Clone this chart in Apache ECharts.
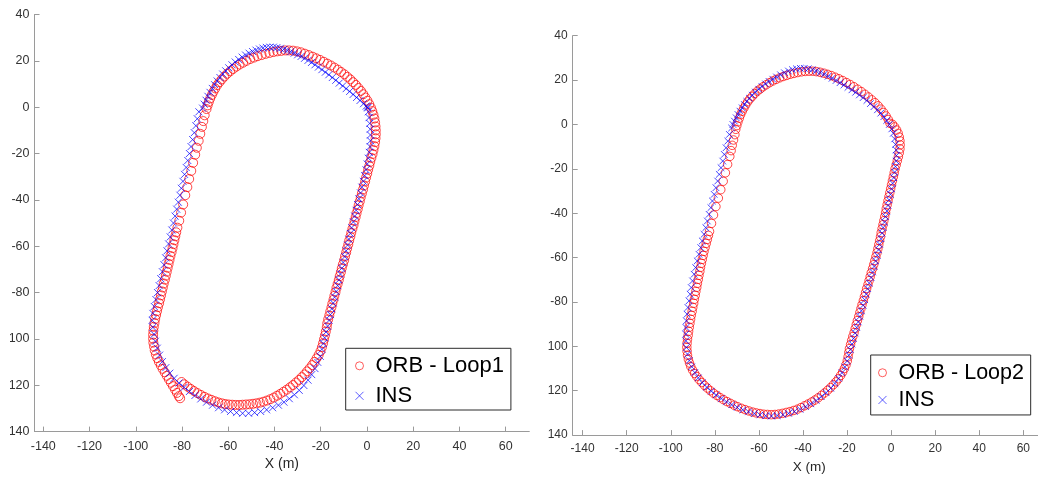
<!DOCTYPE html>
<html><head><meta charset="utf-8">
<script src="https://cdn.jsdelivr.net/npm/echarts@6/dist/echarts.min.js"></script>
<style>
html,body{margin:0;padding:0;background:#fff;width:1038px;height:477px;overflow:hidden;position:relative}
#c1{position:absolute;left:10px;top:0;width:536px;height:477px}
#c2{position:absolute;left:548px;top:0;width:490px;height:477px}
</style></head><body><div id="c1"></div><div id="c2"></div>
<script>
const xTicks = [-140,-120,-100,-80,-60,-40,-20,0,20,40,60];
const xName = 'X (m)';
const legend1 = ['ORB - Loop1','INS'];
const legend2 = ['ORB - Loop2','INS'];

const orb1 = [
[-80.2,-118.6],[-79,-119.6],[-77.6,-120.6],[-76.2,-121.6],[-74.8,-122.5],[-73.3,-123.4],[-71.8,-124.2],[-70.3,-125],[-68.8,-125.7],[-67.3,-126.3],[-65.8,-126.9],[-64.3,-127.4],[-62.8,-127.8],[-61.3,-128.1],[-59.8,-128.3],[-58.3,-128.4],[-56.8,-128.5],[-55.3,-128.5],[-53.8,-128.4],[-52.3,-128.3],[-50.8,-128.2],[-49.3,-128],[-47.8,-127.8],[-46.3,-127.5],[-44.8,-127.1],[-43.3,-126.6],[-41.8,-126],[-40.3,-125.3],[-38.9,-124.5],[-37.5,-123.7],[-36.1,-122.8],[-34.7,-121.9],[-33.3,-120.9],[-32,-119.9],[-30.7,-118.8],[-29.4,-117.7],[-28.2,-116.5],[-27,-115.3],[-25.9,-114],[-24.8,-112.7],[-23.7,-111.3],[-22.7,-109.9],[-21.8,-108.4],[-20.9,-106.9],[-20.1,-105.3],[-19.5,-103.6],[-19,-101.9],[-18.6,-100.2],[-18.2,-98.5],[-17.8,-96.8],
[-17.4,-95],[-17.2,-93.3],[-16.8,-91.6],[-16.3,-89.9],[-15.9,-88.2],[-15.4,-86.5],[-15,-84.8],[-14.5,-83.1],[-14.1,-81.4],[-13.6,-79.7],[-13.2,-78],[-12.7,-76.3],[-12.2,-74.6],[-11.8,-72.9],[-11.3,-71.2],[-10.9,-69.5],[-10.4,-67.8],[-9.9,-66.1],[-9.5,-64.4],[-9,-62.7],[-8.6,-61],[-8.1,-59.3],[-7.7,-57.6],[-7.2,-55.9],[-6.8,-54.2],[-6.3,-52.5],[-5.8,-50.8],[-5.4,-49.1],[-4.9,-47.4],[-4.5,-45.7],[-4,-44],[-3.6,-42.3],[-3.1,-40.6],[-2.7,-38.9],[-2.2,-37.2],[-1.7,-35.5],[-1.3,-33.8],[-0.8,-32.1],[-0.4,-30.4],[0.1,-28.7],[0.5,-27],[1,-25.3],[1.4,-23.6],[1.9,-21.9],[2.4,-20.2],
[2.8,-18.5],[3.2,-16.8],[3.5,-15.1],[3.7,-13.4],[3.8,-11.7],[3.8,-10],[3.7,-8.3],[3.5,-6.6],[3.2,-4.9],[2.8,-3.3],[2.3,-1.7],[1.7,-0.2],[1,1.3],[0.2,2.8],[-0.7,4.2],[-1.6,5.6],[-2.6,7],[-3.7,8.3],[-4.8,9.6],[-6,10.8],[-7.2,12],[-8.5,13.1],[-9.8,14.2],[-11.2,15.2],[-12.6,16.2],[-14.1,17.1],[-15.6,18],[-17.1,18.8],[-18.7,19.6],[-20.3,20.4],[-21.9,21.1],[-23.5,21.8],[-25.2,22.5],[-26.9,23.1],[-28.6,23.7],[-30.3,24.1],
[-32,24.4],[-33.7,24.5],[-35.4,24.5],[-37.1,24.3],[-38.8,24.1],[-40.5,23.8],[-42.2,23.4],[-43.9,23],[-45.6,22.5],[-47.3,22],[-48.9,21.4],[-50.5,20.8],[-52.1,20],[-53.6,19.2],[-55.1,18.4],[-56.5,17.5],[-57.9,16.5],[-59.2,15.5],[-60.5,14.4],[-61.7,13.2],[-62.8,12],[-63.8,10.8],[-64.8,9.5],[-65.6,8.1],[-66.4,6.7],[-67.1,5.3],[-67.8,3.8],[-68.4,2.3],[-68.9,0.8],[-69.4,-0.8],
[-70.2,-3.5],[-70.8,-6],[-71.4,-8.5],[-72.1,-11.5],[-72.8,-14.5],[-73.6,-17.5],[-74.3,-20.5],[-75.2,-24],[-76,-27.5],[-76.9,-31],[-77.7,-34.5],[-78.6,-38],[-79.5,-42],[-80.4,-45.5],[-81.2,-49],[-82,-52],
[-82.5,-54],[-82.9,-55.7],[-83.3,-57.4],[-83.7,-59.1],[-84.1,-60.8],[-84.5,-62.5],[-85,-64.2],[-85.4,-65.9],[-85.8,-67.6],[-86.2,-69.3],[-86.6,-71],[-87,-72.7],[-87.4,-74.4],[-87.9,-76.1],[-88.3,-77.8],[-88.7,-79.5],[-89.1,-81.2],[-89.5,-82.9],[-89.9,-84.6],[-90.4,-86.3],[-90.8,-88],
[-91.2,-89.7],[-91.6,-91.4],[-91.9,-93.1],[-92.2,-94.8],[-92.4,-96.5],[-92.5,-98.2],[-92.5,-99.9],[-92.4,-101.6],[-92.1,-103.3],[-91.8,-105],[-91.3,-106.7],[-90.7,-108.3],[-90,-109.9],[-89.2,-111.4],[-88.4,-112.9],[-87.5,-114.4],
[-86.6,-115.9],[-85.7,-117.4],[-84.8,-118.9],[-83.9,-120.4],[-83,-121.9],[-82.2,-123.3],[-81.4,-124.7],[-80.8,-125.6]
];

const ins1 = [
[0.2,0],[-0.3,0.5],[-1.5,1.5],[-3,2.9],[-4.5,4.2],[-6,5.5],[-7.5,6.8],[-9,8],[-10.5,9.2],[-12,10.4],[-13.5,11.6],[-15,12.8],[-16.5,14],[-18,15.1],[-19.5,16.2],[-21,17.3],[-22.5,18.3],[-24,19.3],[-25.5,20.2],[-27,21.1],[-28.5,21.9],[-30,22.6],[-31.5,23.3],[-33,23.9],[-34.5,24.5],[-36,25],[-37.5,25.4],[-39,25.7],[-40.5,25.9],[-42,25.9],[-43.5,25.8],[-45,25.5],[-46.5,25.1],[-48,24.6],[-49.5,24],[-51,23.3],[-52.5,22.5],[-54,21.6],[-55.5,20.6],[-57,19.5],[-58.4,18.3],[-59.8,17],[-61.1,15.7],[-62.4,14.3],[-63.6,12.8],[-64.8,11.3],[-65.9,9.7],[-66.9,8.1],[-67.9,6.4],[-68.8,4.7],[-69.6,3],[-70.4,1.3],[-71.1,-0.4],
[-72.7,-2],[-73.4,-5],[-74,-8],[-74.7,-11],[-75.4,-14],[-76.1,-17],[-76.8,-20],[-77.5,-23],[-78.2,-26],[-78.9,-29],[-79.6,-32],[-80.3,-35],[-80.9,-38],[-81.6,-41],[-82.3,-44],[-83,-47],[-83.7,-50],[-84.4,-53],[-85.1,-56],[-85.8,-59],[-86.5,-62],[-87.1,-65],[-87.8,-68],[-88.5,-71],[-89.2,-74],[-89.9,-77],[-90.6,-80],[-91.3,-83],[-92,-86],[-92.6,-89],
[-92.9,-92],[-92.6,-95],[-92.1,-98],[-91.5,-101],[-90.7,-104],[-89.7,-107],[-88.5,-109.8],[-87,-112.4],[-85.3,-114.8],[-83.4,-117],[-81.3,-119],[-79.1,-120.9],[-76.8,-122.7],[-74.4,-124.4],[-71.9,-125.9],[-69.4,-127.3],[-66.8,-128.6],[-64.2,-129.7],[-61.6,-130.6],[-59,-131.3],[-56.4,-131.8],[-53.8,-132.1],[-51.2,-132.1],[-48.6,-131.8],[-46,-131.3],[-43.4,-130.6],[-40.8,-129.7],[-38.3,-128.6],[-35.9,-127.3],[-33.6,-125.8],[-31.4,-124.1],[-29.3,-122.2],[-27.3,-120.1],[-25.5,-117.8],[-23.9,-115.4],[-22.5,-112.8],[-21.3,-110.1],
[-20.2,-107.5],[-19.5,-104.5],[-18.9,-102],[-18.3,-99.5],[-17.7,-97],[-17,-94.5],[-16.4,-92],[-15.8,-89.5],[-15.2,-87],[-14.6,-84.5],[-14,-82],[-13.3,-79.5],[-12.7,-77],[-12.1,-74.5],[-11.5,-72],[-10.9,-69.5],[-10.3,-67],[-9.6,-64.5],[-9,-62],[-8.4,-59.5],[-7.8,-57],[-7.2,-54.5],[-6.6,-52],[-5.9,-49.5],[-5.3,-47],[-4.7,-44.5],[-4.1,-42],[-3.5,-39.5],[-2.8,-37],[-2.2,-34.5],[-1.6,-32],[-1,-29.5],[-0.4,-27],[0.1,-24.5],[0.6,-22],[1,-19.5],[1.3,-17],[1.5,-14.5],[1.5,-12],[1.4,-9.5],[1.2,-7],[0.9,-4.5],[0.6,-2],[0.3,-0.3]
];

const orb2 = [
[-0.5,0.5],[-1.3,2.2],[-2.3,3.8],[-3.4,5.4],[-4.6,6.9],[-5.9,8.4],[-7.3,9.8],[-8.8,11.1],[-10.3,12.4],[-11.9,13.6],[-13.5,14.8],[-15.2,15.9],[-16.9,17],[-18.6,18],[-20.3,18.9],[-22,19.8],[-23.7,20.6],[-25.4,21.3],[-27.1,22],[-28.8,22.6],[-30.5,23.1],[-32.2,23.5],[-33.9,23.8],[-35.6,24],[-37.3,24],[-39,23.9],[-40.7,23.7],[-42.4,23.4],[-44.1,23],[-45.8,22.6],[-47.4,22.1],[-49,21.6],[-50.6,21],[-52.2,20.3],[-53.7,19.6],[-55.2,18.8],[-56.7,17.9],[-58.1,17],[-59.4,16],[-60.7,15],[-61.9,13.9],[-63,12.7],[-64.1,11.5],[-65.1,10.2],[-66,8.8],[-66.8,7.4],[-67.6,5.9],[-68.3,4.4],[-68.9,2.8],[-69.5,1.2],[-70,-0.5],[-70.5,-2.2],
[-70.9,-4.6],[-71.5,-7],[-72.1,-9.4],[-72.6,-11.8],[-73.2,-14.4],[-74.2,-18],[-75.2,-21.8],[-76.2,-25.6],[-77.3,-29.4],[-78.4,-33.2],[-79.5,-37],[-80.6,-40.8],[-81.5,-44.6],[-82.4,-48.2],[-82.9,-50],[-83.4,-51.8],[-83.9,-53.6],[-84.4,-55.4],[-84.9,-57.2],[-85.3,-59],[-85.7,-60.8],[-86.1,-62.6],[-86.5,-64.4],[-86.8,-66.2],[-87.2,-68],[-87.5,-69.8],[-87.9,-71.6],[-88.2,-73.4],[-88.6,-75.2],[-88.9,-77],[-89.3,-78.8],[-89.6,-80.6],[-90,-82.4],[-90.3,-84.2],[-90.7,-86],[-91,-87.8],[-91.3,-89.6],[-91.6,-91.4],[-91.9,-93.2],[-92.1,-95],
[-92.4,-96.8],[-92.6,-98.6],[-92.7,-100.4],[-92.6,-102.2],[-92.4,-104],[-92,-105.8],[-91.5,-107.5],[-90.9,-109.1],[-90.1,-110.7],[-89.2,-112.2],[-88.2,-113.6],[-87.1,-115],[-85.9,-116.3],[-84.7,-117.6],[-83.4,-118.8],[-82,-120],[-80.6,-121.1],[-79.1,-122.1],[-77.6,-123.1],[-76.1,-124],[-74.5,-124.9],[-72.9,-125.7],[-71.3,-126.5],[-69.7,-127.2],[-68,-127.9],[-66.3,-128.5],[-64.6,-129.1],[-62.9,-129.6],[-61.2,-130],[-59.5,-130.3],[-57.8,-130.6],[-56.1,-130.7],[-54.4,-130.8],[-52.7,-130.7],[-51,-130.5],[-49.3,-130.2],[-47.6,-129.8],[-45.9,-129.4],[-44.2,-128.9],[-42.5,-128.3],[-40.9,-127.6],[-39.3,-126.8],[-37.7,-126],[-36.1,-125.1],[-34.6,-124.2],[-33.1,-123.2],[-31.6,-122.1],[-30.2,-121],[-28.8,-119.8],[-27.5,-118.6],[-26.2,-117.3],[-25,-116],[-23.9,-114.6],[-22.9,-113.1],[-22,-111.6],[-21.2,-110],[-20.5,-108.4],[-19.9,-106.6],[-19.5,-104.7],[-19.2,-102.8],
[-18.9,-101],[-18.4,-99.2],[-17.9,-97.4],[-17.4,-95.6],[-16.8,-93.8],[-16.3,-92],[-15.8,-90.2],[-15.3,-88.4],[-14.7,-86.6],[-14.2,-84.8],[-13.7,-83],[-13.2,-81.2],[-12.6,-79.4],[-12.1,-77.6],[-11.6,-75.8],[-11.1,-74],[-10.5,-72.2],[-10,-70.4],[-9.5,-68.6],[-9,-66.8],[-8.4,-65],[-7.9,-63.2],[-7.4,-61.4],[-6.9,-59.6],[-6.4,-57.8],[-6,-56],[-5.6,-54.2],[-5.2,-52.4],[-4.8,-50.6],[-4.5,-48.8],[-4.1,-47],[-3.7,-45.2],[-3.3,-43.4],[-2.9,-41.6],[-2.5,-39.8],[-2.2,-38],[-1.8,-36.2],[-1.4,-34.4],[-1,-32.6],[-0.6,-30.8],[-0.2,-29],[0.2,-27.2],[0.6,-25.4],[1,-23.6],[1.4,-21.8],[1.8,-20],[2.3,-18.2],[2.8,-16.4],[3.3,-14.6],[3.7,-12.8],[4,-11],[4.1,-9.2],[4,-7.4],[3.7,-5.7],[3.2,-4],[2.5,-2.5],[1.6,-1.1],[0.6,0.1]
];

const ins2 = [
[0.3,-2],[-0.8,0],[-2,1.8],[-3.3,3.5],[-4.7,5.1],[-6.2,6.6],[-7.8,8],[-9.4,9.4],[-11,10.8],[-12.7,12.1],[-14.4,13.3],[-16.1,14.5],[-17.8,15.6],[-19.6,16.7],[-21.4,17.8],[-23.2,18.8],[-25,19.8],[-26.8,20.8],[-28.6,21.7],[-30.4,22.6],[-32.2,23.4],[-34,24.1],[-35.8,24.7],[-37.6,25.1],[-39.4,25.3],[-41.2,25.3],[-43,25.1],[-44.8,24.7],[-46.6,24.1],[-48.4,23.3],[-50.2,22.4],[-52,21.4],[-53.7,20.4],[-55.4,19.4],[-57,18.3],[-58.6,17.1],[-60.1,15.9],[-61.6,14.6],[-63,13.2],[-64.3,11.8],[-65.5,10.4],[-66.6,9],[-67.6,7.5],[-68.6,6],[-69.5,4.5],[-70.3,3],[-71.1,1.5],[-71.8,0],[-72.4,-1.6],
[-73.4,-4.5],[-74.1,-7.5],[-74.9,-10.5],[-75.7,-13.5],[-76.4,-16.5],[-77.2,-19.5],[-78,-22.5],[-78.7,-25.5],[-79.5,-28.5],[-80.3,-31.5],[-81.1,-34.5],[-81.8,-37.5],[-82.6,-40.5],[-83.4,-43.5],[-84.1,-46.5],[-84.9,-49.5],[-85.7,-52.5],[-86.4,-55.5],[-87.2,-58.5],[-88,-61.5],[-88.7,-64.5],[-89.4,-67.5],[-90.1,-70.5],[-90.7,-73.5],[-91.2,-76.5],[-91.7,-79.5],[-92.2,-82.5],[-92.6,-85.5],[-92.9,-88.5],[-93.1,-91.5],[-93.2,-94.5],
[-93.1,-97.5],[-92.9,-100.5],[-92.4,-103.5],[-91.6,-106.4],[-90.5,-109.2],[-89.1,-111.8],[-87.5,-114.2],[-85.7,-116.4],[-83.7,-118.4],[-81.6,-120.2],[-79.4,-121.9],[-77.1,-123.5],[-74.7,-125],[-72.3,-126.3],[-69.8,-127.5],[-67.3,-128.6],[-64.7,-129.5],[-62.1,-130.3],[-59.5,-130.9],[-56.9,-131.3],[-54.3,-131.4],[-51.7,-131.2],[-49.1,-130.8],[-46.5,-130.2],[-43.9,-129.4],[-41.3,-128.4],[-38.8,-127.2],[-36.4,-125.9],[-34,-124.4],[-31.7,-122.7],[-29.5,-120.9],[-27.4,-118.9],[-25.5,-116.7],[-23.8,-114.4],[-22.3,-111.9],[-21,-109.3],[-19.9,-106.6],
[-19.2,-104],[-18.5,-101.5],[-17.8,-99],[-17.1,-96.5],[-16.3,-94],[-15.6,-91.5],[-14.9,-89],[-14.2,-86.5],[-13.5,-84],[-12.7,-81.5],[-12,-79],[-11.3,-76.5],[-10.6,-74],[-9.9,-71.5],[-9.1,-69],[-8.4,-66.5],[-7.7,-64],[-7,-61.5],[-6.3,-59],[-5.7,-56.5],[-5.2,-54],[-4.6,-51.5],[-4.1,-49],[-3.6,-46.5],[-3,-44],[-2.5,-41.5],[-1.9,-39],[-1.4,-36.5],[-0.9,-34],[-0.3,-31.5],[0.2,-29],[0.7,-26.5],[1.2,-24],[1.6,-21.5],[2,-19],[2.3,-16.5],[2.4,-14],[2.3,-11.5],[2,-9],[1.6,-6.5],[1,-4]
];

const FONT = 'Liberation Sans, Arial, Helvetica, sans-serif';
const CROSS = 'path://M0,0L10,10M10,0L0,10';

function makeOption(c) {
  return {
    animation: false,
    backgroundColor: '#ffffff',
    textStyle: { fontFamily: FONT },
    grid: { left: c.gl, top: c.gt, width: c.gw, height: c.gh, containLabel: false, outerBoundsMode: 'none' },
    legend: {
      data: c.legend, orient: 'vertical', left: c.ll, top: c.lt,
      padding: c.lpad, itemWidth: 22, itemHeight: c.ih, itemGap: c.lgap,
      backgroundColor: '#ffffff', borderColor: '#2b2b2b', borderWidth: 1, borderRadius: 0,
      textStyle: { fontSize: c.lfs, color: '#000', fontFamily: FONT },
      itemStyle: { borderWidth: 0.8 },
      selectedMode: false
    },
    xAxis: {
      type: 'value', min: c.xmin, max: c.xmax,
      name: xName, nameLocation: 'middle', nameGap: c.ng,
      nameTextStyle: { fontSize: c.nfs, color: '#262626', fontFamily: FONT },
      axisLine: { onZero: false, lineStyle: { color: '#9a9a9a', width: 1 } },
      axisTick: { inside: true, length: 5, customValues: xTicks, lineStyle: { color: '#9a9a9a' } },
      axisLabel: { customValues: xTicks, fontSize: c.fs, color: '#333', margin: c.xm, fontFamily: FONT },
      splitLine: { show: false }
    },
    yAxis: {
      type: 'value', min: -140, max: 40, interval: 20,
      axisLine: { show: true, onZero: false, lineStyle: { color: '#9a9a9a', width: 1 } },
      axisTick: { show: true, inside: true, length: 5, lineStyle: { color: '#9a9a9a' } },
      axisLabel: { fontSize: c.fs, color: '#333', margin: 5, fontFamily: FONT },
      splitLine: { show: false }
    },
    series: [
      { type: 'scatter', name: c.legend[0], data: c.orb, symbol: 'circle', symbolSize: c.cs,
        itemStyle: { color: 'rgba(255,255,255,0)', borderColor: '#ff0000', borderWidth: 0.9 },
        emphasis: { disabled: true }, silent: true },
      { type: 'scatter', name: c.legend[1], data: c.ins, symbol: CROSS, symbolSize: c.xs,
        itemStyle: { color: 'none', borderColor: '#0000ff', borderWidth: 0.9 },
        emphasis: { disabled: true }, silent: true }
    ]
  };
}

const ch1 = echarts.init(document.getElementById('c1'), null, { renderer: 'canvas' });
ch1.setOption(makeOption({
  gl: 24.5, gt: 14.5, gw: 494.8, gh: 417.1, xmin: -143.8, xmax: 70.2,
  legend: legend1, ll: 335.7, lt: 348.3, lpad: [6.5, 7, 3.2, 7.3], ih: 8, lgap: 8, lfs: 22,
  fs: 12.5, xm: 8, ng: 24, nfs: 14, orb: orb1, ins: ins1, cs: 9, xs: 7
}));
const ch2 = echarts.init(document.getElementById('c2'), null, { renderer: 'canvas' });
ch2.setOption(makeOption({
  gl: 24.7, gt: 35.7, gw: 473.1, gh: 399.4, xmin: -144.5, xmax: 70.2,
  legend: legend2, ll: 322.7, lt: 355, lpad: [6.75, 6.7, 4, 5.3], ih: 8, lgap: 5.2, lfs: 21.5,
  fs: 12, xm: 8, ng: 24.5, nfs: 13.5, orb: orb2, ins: ins2, cs: 8.5, xs: 6.6
}));
</script></body></html>
